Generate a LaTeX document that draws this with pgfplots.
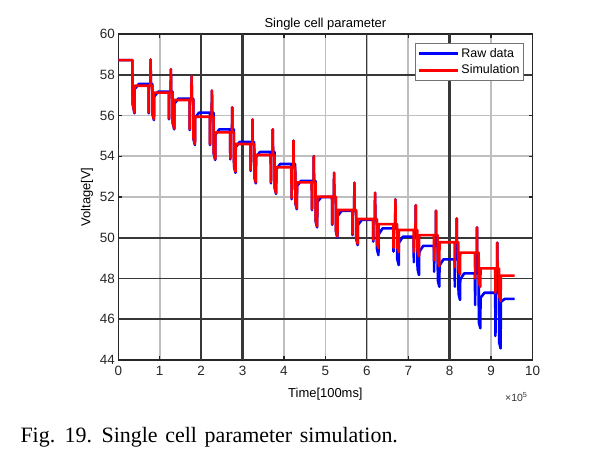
\documentclass[border=0pt]{standalone}
\usepackage{fontspec}
\setmainfont{Liberation Sans}
\newfontfamily\capfont[WordSpace=1.4]{Liberation Serif}
\usepackage{pgfplots}
\pgfplotsset{compat=1.18}
\definecolor{gridgray}{RGB}{190,190,190}
\definecolor{griddark}{RGB}{55,55,55}
\definecolor{rawblue}{RGB}{0,0,255}
\definecolor{simred}{RGB}{255,0,0}
\begin{document}
\begin{tikzpicture}
\path[use as bounding box] (0,0) rectangle (605bp,466bp);
\begin{axis}[
 at={(118.3bp,106bp)}, anchor=south west,
 scale only axis, width=414.2bp, height=326bp,
 xmin=0, xmax=10, ymin=44, ymax=60,
 xtick={0,1,...,10}, ytick={44,46,...,60},
 grid=major, major grid style={gridgray, line width=1.6bp},
 axis line style={black!85, line width=1.2bp},
 tick style={black!85, line width=1.2bp}, major tick length=4bp,
 tick align=inside,
 /pgf/number format/assume math mode=true,
 ticklabel style={font=\fontsize{13.5}{15}\selectfont, text=black!85},
 xticklabel style={yshift=-3bp},
 title={Single cell parameter},
 title style={font=\fontsize{13}{15}\selectfont, yshift=-6bp},
 xlabel={Time[100ms]}, ylabel={Voltage[V]},
 label style={font=\fontsize{13}{15}\selectfont},
 xlabel style={yshift=-5bp},
 legend style={at={(1,1)}, anchor=north east, xshift=-8.5bp, yshift=-9bp,
   font=\fontsize{12.5}{14}\selectfont, draw=black!55, line width=0.8bp,
   inner xsep=2bp, inner ysep=3bp, row sep=2bp},
 legend cell align=left,
 legend image code/.code={\draw[#1, line width=3bp] (0bp,0bp) -- (39bp,0bp);},
]
\draw[griddark, line width=2.6bp] (axis cs:3,44) -- (axis cs:3,60);
\draw[griddark, line width=2.6bp] (axis cs:8,44) -- (axis cs:8,60);
\draw[griddark, line width=1.3bp] (axis cs:2,44) -- (axis cs:2,60);
\draw[griddark, line width=1.3bp] (axis cs:6,44) -- (axis cs:6,60);
\draw[griddark, line width=1.9bp] (axis cs:0,58) -- (axis cs:10,58);
\draw[griddark, line width=2bp] (axis cs:0,50) -- (axis cs:10,50);
\draw[griddark, line width=1.3bp] (axis cs:0,48) -- (axis cs:10,48);
\draw[griddark, line width=1.9bp] (axis cs:0,46) -- (axis cs:10,46);

\addplot[rawblue, line width=2.6bp, line join=round] coordinates {
(0,58.72)(0.34,58.72)(0.345,56.6)(0.39,56.11)(0.395,57.3)(0.5,57.55)
(0.73,57.55)(0.735,56.11)(0.74,57.55)(0.775,57.55)(0.78,58.75)(0.785,57.55)(0.82,57.55)(0.825,56.08)(0.86,55.78)(0.865,56.92)(0.96,57.17)
(1.22,57.17)(1.225,55.81)(1.23,57.17)(1.265,57.17)(1.27,58.27)(1.275,57.17)(1.31,57.17)(1.315,55.62)(1.35,55.32)(1.355,56.58)(1.45,56.83)
(1.72,56.83)(1.725,55.29)(1.73,56.83)(1.765,56.83)(1.77,57.94)(1.775,56.83)(1.81,56.83)(1.815,54.85)(1.85,54.55)(1.855,55.89)(1.95,56.14)
(2.21,56.14)(2.215,54.55)(2.22,56.14)(2.255,56.14)(2.26,57.22)(2.265,56.14)(2.30,56.14)(2.305,54.12)(2.34,53.82)(2.345,55.07)(2.44,55.32)
(2.70,55.32)(2.705,53.85)(2.71,55.32)(2.745,55.32)(2.75,56.40)(2.755,55.32)(2.79,55.32)(2.795,53.49)(2.83,53.19)(2.835,54.45)(2.93,54.70)
(3.19,54.70)(3.195,53.28)(3.20,54.70)(3.235,54.70)(3.24,55.81)(3.245,54.70)(3.28,54.70)(3.285,52.97)(3.32,52.67)(3.325,53.96)(3.42,54.21)
(3.68,54.21)(3.685,52.67)(3.69,54.21)(3.725,54.21)(3.73,55.32)(3.735,54.21)(3.77,54.21)(3.775,52.45)(3.81,52.15)(3.815,53.37)(3.91,53.62)
(4.18,53.62)(4.185,51.89)(4.19,53.62)(4.225,53.62)(4.23,54.76)(4.235,53.62)(4.27,53.62)(4.275,51.70)(4.31,51.40)(4.315,52.54)(4.41,52.79)
(4.67,52.79)(4.675,51.36)(4.68,52.79)(4.715,52.79)(4.72,54.01)(4.725,52.79)(4.76,52.79)(4.765,50.81)(4.80,50.51)(4.805,51.75)(4.90,52.00)
(5.16,52.00)(5.165,50.63)(5.17,52.00)(5.205,52.00)(5.21,53.19)(5.215,52.00)(5.25,52.00)(5.255,50.30)(5.29,50.00)(5.295,51.07)(5.39,51.32)
(5.65,51.32)(5.655,50.13)(5.66,51.32)(5.695,51.32)(5.70,52.70)(5.705,51.32)(5.74,51.32)(5.745,49.94)(5.78,49.64)(5.785,50.63)(5.88,50.88)
(6.15,50.88)(6.155,49.81)(6.16,50.88)(6.195,50.88)(6.20,52.21)(6.205,50.88)(6.24,50.88)(6.245,49.45)(6.28,49.15)(6.285,50.16)(6.38,50.46)
(6.64,50.46)(6.645,49.32)(6.65,50.46)(6.685,50.46)(6.69,51.89)(6.695,50.46)(6.73,50.46)(6.735,48.96)(6.77,48.66)(6.775,49.75)(6.87,50.05)
(7.13,50.05)(7.135,48.80)(7.14,50.05)(7.175,50.05)(7.18,51.60)(7.185,50.05)(7.22,50.05)(7.225,48.47)(7.26,48.17)(7.265,49.30)(7.36,49.60)
(7.62,49.60)(7.625,48.33)(7.63,49.60)(7.665,49.60)(7.67,51.33)(7.675,49.60)(7.71,49.60)(7.715,47.90)(7.75,47.60)(7.755,48.64)(7.85,48.94)
(8.12,48.94)(8.125,47.60)(8.13,48.94)(8.165,48.94)(8.17,50.95)(8.175,48.94)(8.21,48.94)(8.215,47.25)(8.25,46.95)(8.255,47.95)(8.35,48.25)
(8.61,48.25)(8.615,46.70)(8.62,48.25)(8.655,48.25)(8.66,50.51)(8.665,48.25)(8.70,48.25)(8.705,45.86)(8.74,45.56)(8.745,47.05)(8.84,47.30)
(9.10,47.30)(9.105,45.18)(9.11,47.30)(9.145,47.30)(9.15,49.76)(9.155,47.30)(9.19,47.30)(9.195,44.87)(9.23,44.57)(9.235,46.85)(9.33,47.00)(9.57,47.00)
};
\addlegendentry{Raw data}

\addplot[simred, line width=2.6bp, line join=round] coordinates {
(0,58.72)(0.34,58.72)(0.345,56.6)(0.39,56.15)(0.395,57.46)
(0.73,57.46)(0.735,56.15)(0.74,57.46)(0.775,57.46)(0.78,58.75)(0.785,57.46)(0.82,57.46)(0.825,56.10)(0.86,55.82)(0.865,57.12)
(1.22,57.12)(1.225,55.85)(1.23,57.12)(1.265,57.12)(1.27,58.27)(1.275,57.12)(1.31,57.12)(1.315,55.66)(1.35,55.36)(1.355,56.76)
(1.72,56.76)(1.725,55.33)(1.73,56.76)(1.765,56.76)(1.77,57.94)(1.775,56.76)(1.81,56.76)(1.815,54.90)(1.85,54.60)(1.855,55.94)
(2.21,55.94)(2.215,54.60)(2.22,55.94)(2.255,55.94)(2.26,57.22)(2.265,55.94)(2.30,55.94)(2.305,54.17)(2.34,53.87)(2.345,55.17)
(2.70,55.17)(2.705,53.90)(2.71,55.17)(2.745,55.17)(2.75,56.40)(2.755,55.17)(2.79,55.17)(2.795,53.54)(2.83,53.24)(2.835,54.60)
(3.19,54.60)(3.195,53.33)(3.20,54.60)(3.235,54.60)(3.24,55.81)(3.245,54.60)(3.28,54.60)(3.285,53.02)(3.32,52.72)(3.325,54.06)
(3.68,54.06)(3.685,52.72)(3.69,54.06)(3.725,54.06)(3.73,55.32)(3.735,54.06)(3.77,54.06)(3.775,52.50)(3.81,52.20)(3.815,53.46)
(4.18,53.46)(4.185,51.94)(4.19,53.46)(4.225,53.46)(4.23,54.76)(4.235,53.46)(4.27,53.46)(4.275,51.75)(4.31,51.45)(4.315,52.72)
(4.67,52.72)(4.675,51.40)(4.68,52.72)(4.715,52.72)(4.72,54.01)(4.725,52.72)(4.76,52.72)(4.765,50.86)(4.80,50.56)(4.805,52.01)
(5.16,52.01)(5.165,50.68)(5.17,52.01)(5.205,52.01)(5.21,53.19)(5.215,52.01)(5.25,52.01)(5.255,50.35)(5.29,50.05)(5.295,51.36)
(5.65,51.36)(5.655,50.18)(5.66,51.36)(5.695,51.36)(5.70,52.70)(5.705,51.36)(5.74,51.36)(5.745,50.00)(5.78,49.70)(5.785,50.92)
(6.15,50.92)(6.155,49.90)(6.16,50.92)(6.195,50.92)(6.20,52.21)(6.205,50.92)(6.24,50.92)(6.245,49.75)(6.28,49.50)(6.285,50.67)
(6.64,50.67)(6.645,49.50)(6.65,50.67)(6.685,50.67)(6.69,51.89)(6.695,50.67)(6.73,50.67)(6.735,49.55)(6.77,49.30)(6.775,50.38)
(7.13,50.38)(7.135,49.30)(7.14,50.38)(7.175,50.38)(7.18,51.60)(7.185,50.38)(7.22,50.38)(7.225,49.35)(7.26,49.10)(7.265,50.13)
(7.62,50.13)(7.625,48.90)(7.63,50.13)(7.665,50.13)(7.67,51.33)(7.675,50.13)(7.71,50.13)(7.715,48.85)(7.75,48.60)(7.755,49.78)
(8.12,49.78)(8.125,48.55)(8.13,49.78)(8.165,49.78)(8.17,50.95)(8.175,49.78)(8.21,49.78)(8.215,48.45)(8.25,48.20)(8.255,49.27)
(8.61,49.27)(8.615,48.00)(8.62,49.27)(8.655,49.27)(8.66,50.51)(8.665,49.27)(8.70,49.27)(8.705,47.85)(8.74,47.60)(8.745,48.50)
(9.10,48.50)(9.105,47.30)(9.11,48.50)(9.145,48.50)(9.15,49.76)(9.155,48.50)(9.19,48.50)(9.195,47.15)(9.23,46.90)(9.235,48.14)(9.57,48.14)
};
\addlegendentry{Simulation}
\end{axis}
\node[anchor=east, font=\fontsize{10.5}{12}\selectfont, text=black!80] at (531bp,69bp) {×10\textsuperscript{5}};
\node[anchor=base west, font=\capfont\fontsize{22}{26}\selectfont] at (17bp,24bp) {Fig. 19. Single cell parameter simulation.};
\end{tikzpicture}
\end{document}
